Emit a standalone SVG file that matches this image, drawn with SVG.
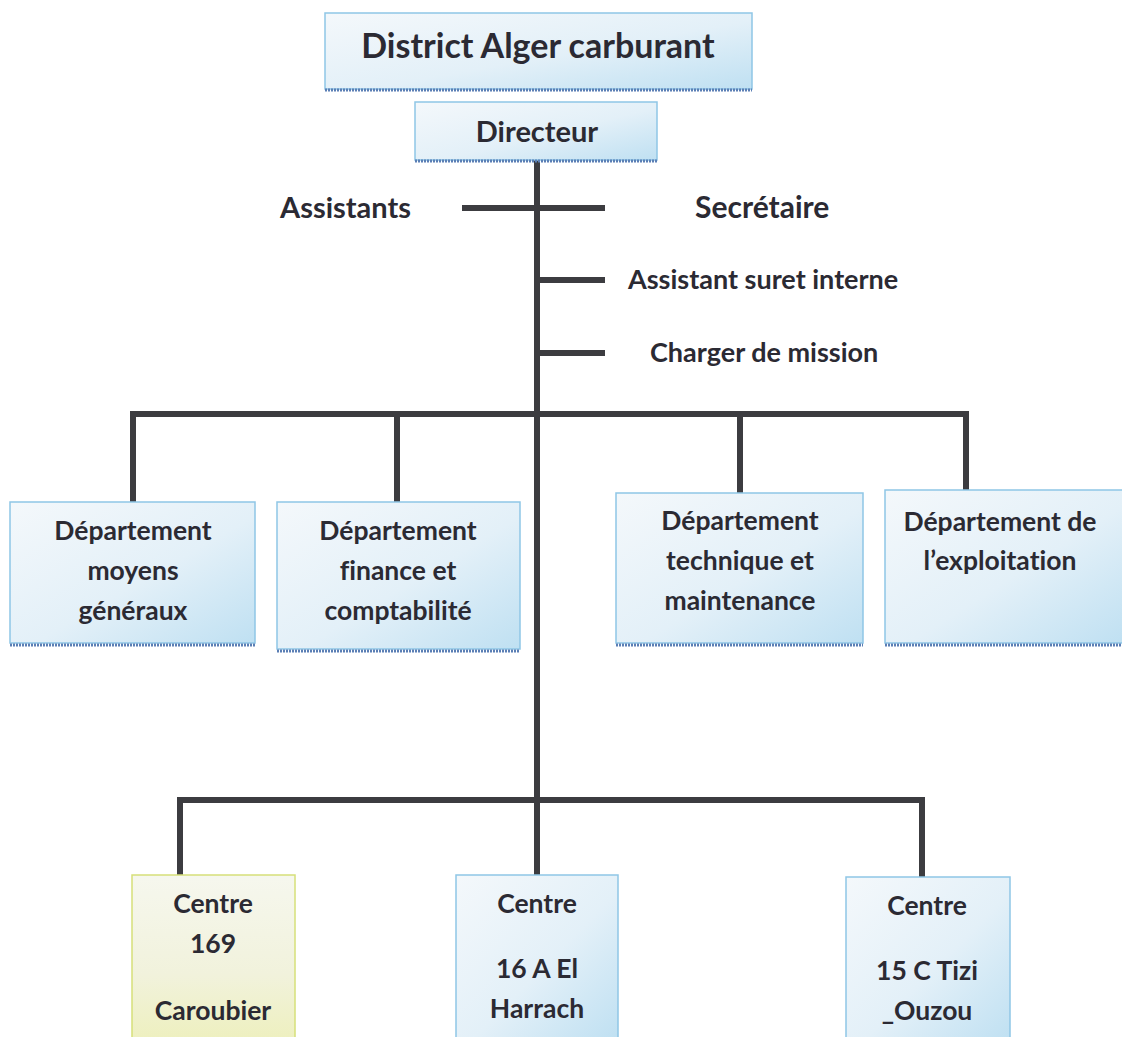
<svg xmlns="http://www.w3.org/2000/svg" width="1122" height="1037" viewBox="0 0 1122 1037">
<defs>
<linearGradient id="gb" x1="0" y1="0" x2="1" y2="1">
<stop offset="0" stop-color="#f4f8fb"/>
<stop offset="0.55" stop-color="#e3f0f8"/>
<stop offset="1" stop-color="#bfe0f2"/>
</linearGradient>
<linearGradient id="gy" x1="0" y1="0" x2="0" y2="1">
<stop offset="0" stop-color="#f6f7ee"/>
<stop offset="0.6" stop-color="#f1f2dc"/>
<stop offset="1" stop-color="#eef0bf"/>
</linearGradient>
<style>
.box{fill:url(#gb);stroke:#8fc6e6;stroke-width:1.5}
.boxy{fill:url(#gy);stroke:#d6e07a;stroke-width:1.5}
.sh{fill:none;stroke:#5b7fb5;stroke-width:3;stroke-dasharray:2 1}
.t{font-family:Lato,"Liberation Sans",sans-serif;font-weight:bold;fill:#2b2a33;text-anchor:middle;font-variant-ligatures:none}
.l{font-family:Lato,"Liberation Sans",sans-serif;font-weight:bold;fill:#2b2a33;font-variant-ligatures:none}
.c{stroke:#3c3c40;stroke-width:6;fill:none;stroke-linecap:butt}
</style>
</defs>
<g id="connectors">
<line class="c" x1="537" y1="160" x2="537" y2="875"/>
<line class="c" x1="462" y1="208" x2="605" y2="208"/>
<line class="c" x1="537" y1="280" x2="605" y2="280"/>
<line class="c" x1="537" y1="353" x2="605" y2="353"/>
<line class="c" x1="130" y1="414" x2="969" y2="414"/>
<line class="c" x1="133" y1="414" x2="133" y2="502"/>
<line class="c" x1="397" y1="414" x2="397" y2="502"/>
<line class="c" x1="740" y1="414" x2="740" y2="493"/>
<line class="c" x1="966" y1="414" x2="966" y2="490"/>
<line class="c" x1="177" y1="800" x2="925" y2="800"/>
<line class="c" x1="180" y1="800" x2="180" y2="875"/>
<line class="c" x1="922" y1="800" x2="922" y2="877"/>
</g>
<g id="district">
<rect class="box" x="325" y="13" width="427" height="76"/>
<line class="sh" x1="325" y1="90" x2="752" y2="90"/>
<text class="t" x="538" y="58" font-size="34">District Alger carburant</text>
</g>
<g id="directeur">
<rect class="box" x="415" y="102" width="242" height="58"/>
<line class="sh" x1="415" y1="161" x2="657" y2="161"/>
<text class="t" x="537" y="142" font-size="29">Directeur</text>
</g>
<g id="assistants"><text class="l" x="280" y="218" font-size="29">Assistants</text></g>
<g id="secretaire"><text class="l" x="695" y="218" font-size="30">Secrétaire</text></g>
<g id="assistant-suret"><text class="l" x="628" y="289" font-size="27">Assistant suret interne</text></g>
<g id="charger"><text class="l" x="650" y="362" font-size="27">Charger de mission</text></g>
<g id="dept-moyens">
<rect class="box" x="10" y="502" width="245" height="141"/>
<line class="sh" x1="10" y1="645" x2="255" y2="645"/>
<text class="t" x="133" y="540" font-size="26.5">Département</text>
<text class="t" x="133" y="580" font-size="26.5">moyens</text>
<text class="t" x="133" y="620" font-size="26.5">généraux</text>
</g>
<g id="dept-finance">
<rect class="box" x="277" y="502" width="243" height="147"/>
<line class="sh" x1="277" y1="651" x2="520" y2="651"/>
<text class="t" x="398" y="540" font-size="26.5">Département</text>
<text class="t" x="398" y="580" font-size="26.5">finance et</text>
<text class="t" x="398" y="620" font-size="26.5">comptabilité</text>
</g>
<g id="dept-technique">
<rect class="box" x="616" y="493" width="247" height="150"/>
<line class="sh" x1="616" y1="645" x2="863" y2="645"/>
<text class="t" x="740" y="530" font-size="26.5">Département</text>
<text class="t" x="740" y="570" font-size="26.5">technique et</text>
<text class="t" x="740" y="610" font-size="26.5">maintenance</text>
</g>
<g id="dept-exploitation">
<rect class="box" x="885" y="490" width="240" height="153"/>
<line class="sh" x1="885" y1="645" x2="1122" y2="645"/>
<text class="t" x="1000" y="531" font-size="26.5">Département de</text>
<text class="t" x="1000" y="570" font-size="26.5">l’exploitation</text>
</g>
<g id="centre-169">
<rect class="boxy" x="132" y="875" width="163" height="165"/>
<text class="t" x="213" y="913" font-size="26.5">Centre</text>
<text class="t" x="213" y="953" font-size="26.5">169</text>
<text class="t" x="213" y="1020" font-size="26.5">Caroubier</text>
</g>
<g id="centre-16a">
<rect class="box" x="456" y="875" width="162" height="165"/>
<text class="t" x="537" y="913" font-size="26.5">Centre</text>
<text class="t" x="537" y="978" font-size="26.5">16 A El</text>
<text class="t" x="537" y="1018" font-size="26.5">Harrach</text>
</g>
<g id="centre-15c">
<rect class="box" x="846" y="877" width="164" height="165"/>
<text class="t" x="927" y="915" font-size="26.5">Centre</text>
<text class="t" x="927" y="980" font-size="26.5">15 C Tizi</text>
<text class="t" x="927" y="1020" font-size="26.5">_Ouzou</text>
</g>
</svg>
